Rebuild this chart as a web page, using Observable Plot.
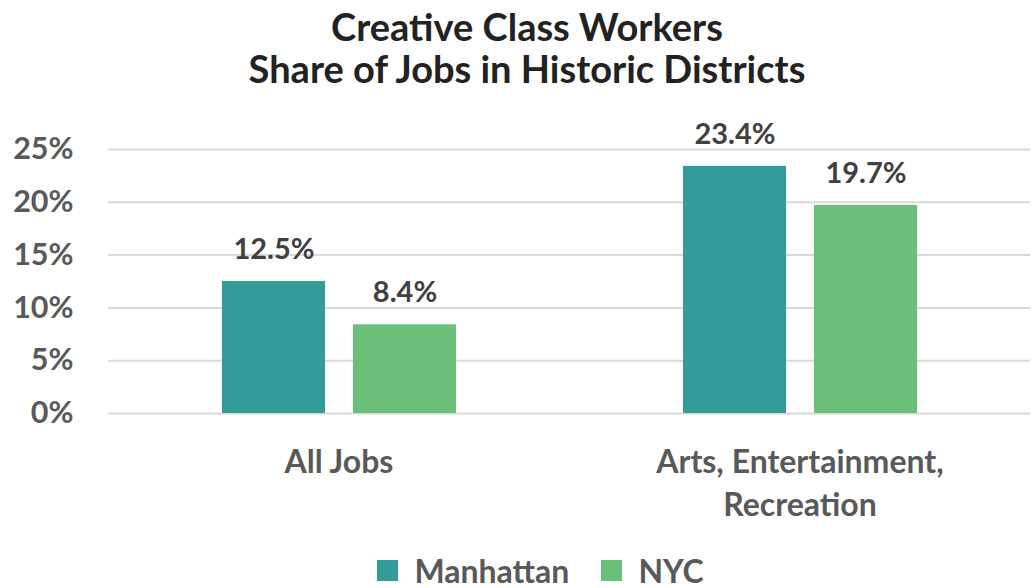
<!DOCTYPE html>
<html>
<head>
<meta charset="utf-8">
<script src="https://cdn.jsdelivr.net/npm/d3@7"></script>
<script src="https://cdn.jsdelivr.net/npm/@observablehq/plot@0.6"></script>
<style>
  body { margin: 0; background: #fff; font-family: Lato, "Noto Sans", sans-serif; }
  #title { height: 100px; box-sizing: border-box; padding-top: 5px; padding-left: 21px; text-align: center;
           font-size: 38px; line-height: 42px; font-weight: 700; color: #222; }
  #legend { display: flex; justify-content: center; padding-left: 80px; margin-top: 11px; }
</style>
</head>
<body>
<div id="title">Creative Class Workers<br>Share of Jobs in Historic Districts</div>
<div id="chart"></div>
<div id="legend"></div>
<script>
const categories = ["All Jobs", "Arts, Entertainment, Recreation"];
const categoryLabels = ["All Jobs", "Arts, Entertainment,\nRecreation"];
const series = ["Manhattan", "NYC"];
const manhattan = [12.5, 23.4];
const nyc = [8.4, 19.7];
const yTicks = [0, 5, 10, 15, 20, 25];
const colors = ["#339c9b", "#6bc079"];

const data = [];
categories.forEach((c, i) => {
  data.push({category: c, series: "Manhattan", value: manhattan[i]});
  data.push({category: c, series: "NYC", value: nyc[i]});
});
const labelOf = new Map(categories.map((c, i) => [c, categoryLabels[i]]));

const chart = Plot.plot({
  width: 1033,
  height: 440,
  marginTop: 49,
  marginBottom: 127,
  marginLeft: 107,
  marginRight: 3,
  style: {fontFamily: "Lato, 'Noto Sans', sans-serif", background: "#fff"},
  fx: {domain: categories, padding: 0, label: null},
  x: {domain: series, paddingInner: 0.214, paddingOuter: 0.866, axis: null},
  y: {domain: [0, 25], axis: null},
  color: {domain: series, range: colors},
  marks: [
    Plot.ruleY(yTicks, {stroke: "#d9d9d9", strokeWidth: 2}),
    Plot.barY(data, {fx: "category", x: "series", y: "value", fill: "series"}),
    Plot.text(data, {fx: "category", x: "series", y: "value", text: d => d.value.toFixed(1) + "%",
      dy: -32, lineAnchor: "middle", fontSize: 29, fontWeight: 700, fill: "#404040"}),
    Plot.axisY({ticks: yTicks, tickSize: 0, tickPadding: 35, tickFormat: d => d + "%",
      fontSize: 30.5, fontWeight: 700, fill: "#595959", label: null}),
    Plot.axisFx({anchor: "bottom", tickSize: 0, tickPadding: 29, tickFormat: d => labelOf.get(d),
      fontSize: 32, fontWeight: 700, fill: "#595959", lineHeight: 1.34, label: null})
  ]
});
document.getElementById("chart").appendChild(chart);

const legend = chart.legend("color", {swatchSize: 21,
  style: {fontSize: "32px", fontWeight: 700, color: "#595959", fontFamily: "Lato, 'Noto Sans', sans-serif"}});
document.getElementById("legend").appendChild(legend);
</script>
</body>
</html>
